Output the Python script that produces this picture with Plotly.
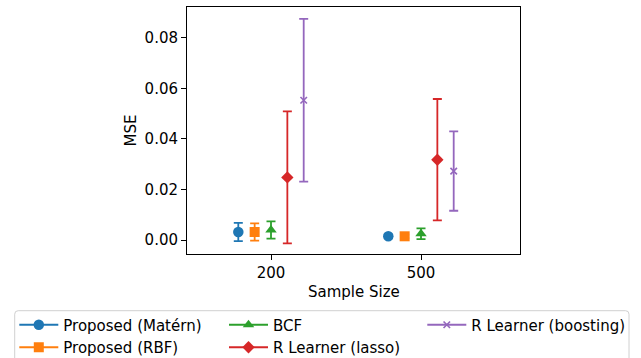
import plotly.graph_objects as go

sample_sizes = ["200", "500"]
methods = ["Proposed (Matérn)", "Proposed (RBF)", "BCF", "R Learner (lasso)", "R Learner (boosting)"]
mse_mean = {
    "Proposed (Matérn)": [0.0032, 0.0015],
    "Proposed (RBF)": [0.0032, 0.0015],
    "BCF": [0.0040, 0.0025],
    "R Learner (lasso)": [0.0248, 0.0318],
    "R Learner (boosting)": [0.0553, 0.0273],
}
mse_err = {
    "Proposed (Matérn)": [0.0036, 0.0008],
    "Proposed (RBF)": [0.0034, 0.0007],
    "BCF": [0.0034, 0.0021],
    "R Learner (lasso)": [0.0261, 0.0240],
    "R Learner (boosting)": [0.0322, 0.0157],
}
offsets = [-0.218, -0.109, 0.0, 0.109, 0.218]
colors = ["#1f77b4", "#ff7f0e", "#2ca02c", "#d62728", "#9467bd"]
symbols = ["circle", "square", "triangle-up", "diamond", "x-thin"]
sizes = [10.5, 10, 10, 9.5, 6.5]
legend_ids = ["legend", "legend", "legend2", "legend2", "legend3"]

fig = go.Figure()
for m, off, col, sym, sz, lg in zip(methods, offsets, colors, symbols, sizes, legend_ids):
    for i in range(len(sample_sizes)):
        marker = dict(color=col, symbol=sym, size=sz)
        if sym == "x-thin":
            marker["line"] = dict(color=col, width=1.6)
        fig.add_trace(go.Scatter(
            x=[i + off], y=[mse_mean[m][i]],
            mode="lines+markers",
            name=m, legend=lg, legendgroup=m,
            showlegend=(i == 0),
            line=dict(color=col, width=2),
            marker=marker,
            error_y=dict(type="data", array=[mse_err[m][i]], color=col,
                         thickness=1.8, width=4.5, visible=True),
        ))

font = dict(family="DejaVu Sans", size=15, color="black")
W, H = 641, 358
L, R, T, B = 187, 121, 7, 104
pw = W - L - R
ph = H - T - B


def px2x(p):
    return (p - L) / pw


def py2y(p):
    return (H - B - p) / ph


fig.update_layout(
    width=W, height=H,
    margin=dict(l=L, r=R, t=T, b=B, autoexpand=False),
    paper_bgcolor="white", plot_bgcolor="white",
    font=font,
    showlegend=True,
    xaxis=dict(
        range=[-0.56, 1.66], tickvals=[0, 1], ticktext=sample_sizes,
        showgrid=False, zeroline=False, showline=True, linecolor="black",
        linewidth=1, mirror=True, ticks="outside", ticklen=5, tickwidth=1,
        tickcolor="black", tickfont=font, automargin=False,
    ),
    yaxis=dict(
        range=[-0.0055, 0.0922], tick0=0, dtick=0.02, tickformat=".2f",
        showgrid=False, zeroline=False, showline=True, linecolor="black",
        linewidth=1, mirror=True, ticks="outside", ticklen=5, tickwidth=1,
        tickcolor="black", tickfont=font, automargin=False,
    ),
)

# axis titles
fig.add_annotation(text="MSE", xref="paper", yref="paper", x=px2x(130), y=0.5,
                   textangle=-90, showarrow=False, font=font,
                   xanchor="center", yanchor="middle")
fig.add_annotation(text="Sample Size", xref="paper", yref="paper", x=0.5, y=py2y(292),
                   showarrow=False, font=font, xanchor="center", yanchor="middle")

leg_common = dict(orientation="v", xref="container", yref="container",
                  xanchor="left", yanchor="top", y=1 - 308.5 / H,
                  bgcolor="rgba(0,0,0,0)", borderwidth=0, font=font,
                  tracegroupgap=0, itemwidth=39)
fig.update_layout(
    legend=dict(x=14.3 / W, **leg_common),
    legend2=dict(x=224 / W, **leg_common),
    legend3=dict(x=422.3 / W, **leg_common),
)

# legend frame with slightly rounded corners
x0, x1, y0, y1 = 14.7, 629, 310.7, 366
r = 3.5
def P(px, py):
    return f"{px2x(px):.5f},{py2y(py):.5f}"
path = (f"M {P(x0 + r, y0)} L {P(x1 - r, y0)} Q {P(x1, y0)} {P(x1, y0 + r)} "
        f"L {P(x1, y1 - r)} Q {P(x1, y1)} {P(x1 - r, y1)} "
        f"L {P(x0 + r, y1)} Q {P(x0, y1)} {P(x0, y1 - r)} "
        f"L {P(x0, y0 + r)} Q {P(x0, y0)} {P(x0 + r, y0)} Z")
fig.add_shape(type="path", xref="paper", yref="paper", path=path,
              line=dict(color="#d0d0d0", width=1), fillcolor="rgba(0,0,0,0)",
              layer="below")

fig.write_html("out.html", config={"displayModeBar": False},
               post_script="document.body.style.margin='0px';")
